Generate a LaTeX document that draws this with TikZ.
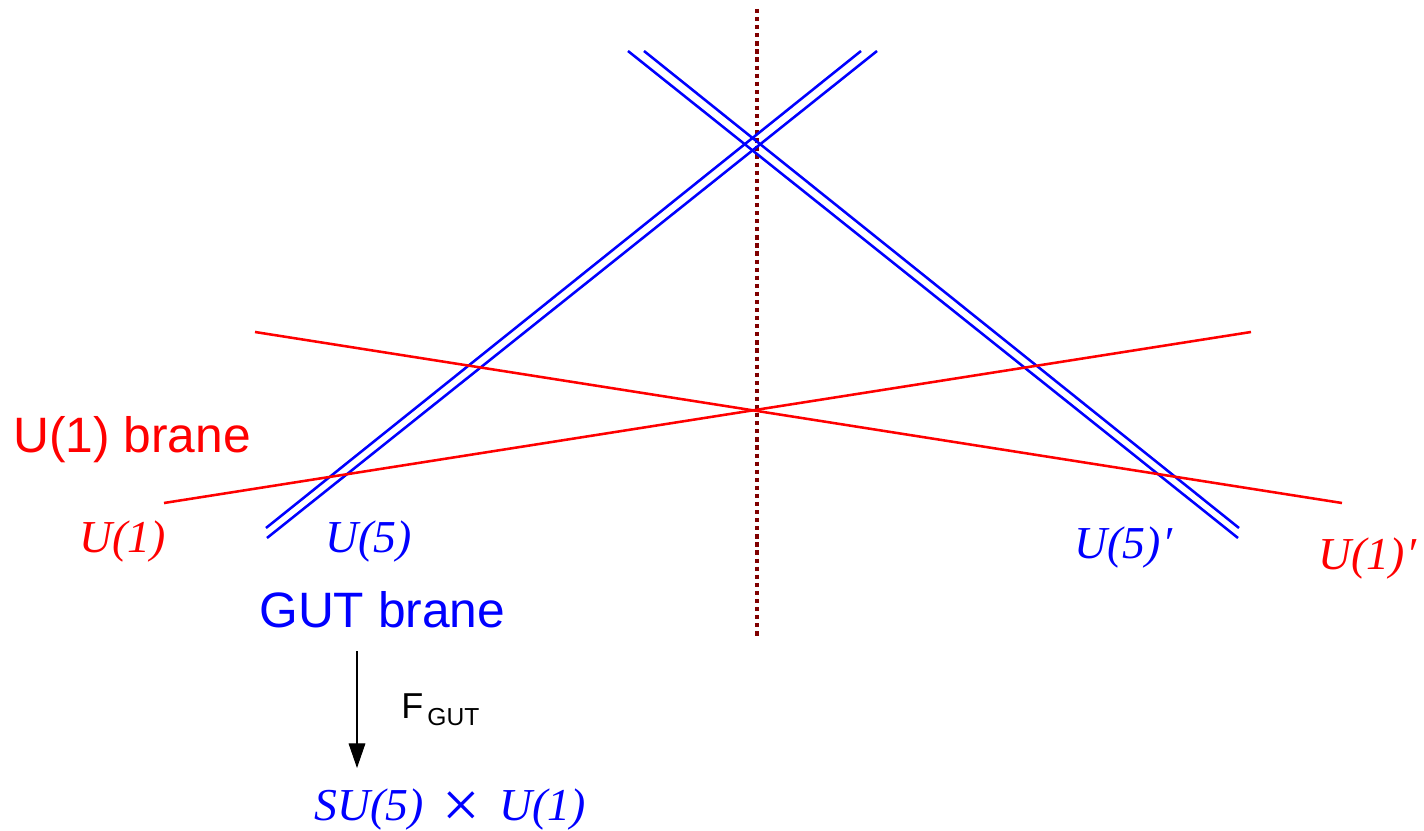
\documentclass[tikz,border=0pt]{standalone}
\usepackage{fontspec}
\setmainfont{Liberation Serif}
\setsansfont{Liberation Sans}
\usepackage{xcolor}
\usetikzlibrary{arrows.meta, positioning}
\definecolor{axisred}{RGB}{128,0,0}

\begin{document}
\begin{tikzpicture}[
  x=0.02cm, y=-0.02cm,
  gutline/.style={blue, line width=1.45pt},
  oneline/.style={red, line width=1.45pt},
  axis/.style={axisred, line width=1.9pt, dash pattern=on 2.4pt off 2.2pt},
  brane/.style={font=\sffamily\fontsize{28.3}{30}\selectfont, inner sep=0pt, anchor=base west},
  group/.style={font=\itshape\fontsize{26}{28}\selectfont, inner sep=0pt, anchor=base west},
  arr/.style={-{Triangle[length=14pt, width=9.5pt]}, line width=0.6pt}
]
  \useasboundingbox (0,0) rectangle (1424,831);

  % symmetry axis
  \coordinate (Atop) at (757,9);
  \coordinate (Abot) at (757,636);
  \draw[axis] (Atop) -- (Abot);

  % GUT brane pairs
  \foreach \name/\x/\y in {LA/266/528, LB/267/538, RA/1239/528, RB/1238/538,
                           TA/861/51, TB/877/51, TC/628/51, TD/644/51}{
    \coordinate (\name) at (\x,\y);
  }
  \draw[gutline] (LA) -- (TA);
  \draw[gutline] (LB) -- (TB);
  \draw[gutline] (TC) -- (RB);
  \draw[gutline] (TD) -- (RA);

  % U(1) branes
  \coordinate (P1) at (164,503);
  \coordinate (P2) at (1251,332);
  \coordinate (P3) at (255,332);
  \coordinate (P4) at (1342,503);
  \draw[oneline] (P1) -- (P2);
  \draw[oneline] (P3) -- (P4);

  % labels
  \node[brane, red] (ubrane) at (13,452) {U(1) brane};
  \node[brane, blue] (gbrane) at (259,627) {GUT brane};
  \node[group, red] (u1) at (79,552) {U(1)};
  \node[group, blue] (u5) at (325,552) {U(5)};
  \node[group, blue] (u5p) at (1074,558) {U(5)\kern1pt′};
  \node[group, red] (u1p) at (1318,569) {U(1)\kern1pt′};

  % breaking by flux
  \coordinate (Fs) at (357,651);
  \coordinate (Fe) at (357,768);
  \draw[arr] (Fs) -- (Fe);
  \node[inner sep=0pt, anchor=base west, font=\sffamily\fontsize{20.5}{22}\selectfont] (flux) at (401,718)
    {F\raisebox{-4pt}{\fontsize{14}{15}\selectfont\,GUT}};
  \node[group, blue] (sub) at (314,820)
    {SU(5)\hspace{11pt}\smash{\raisebox{-4.5pt}{\upshape\fontsize{38}{38}\selectfont ×}}\hspace{11pt}U(1)};
\end{tikzpicture}
\end{document}
